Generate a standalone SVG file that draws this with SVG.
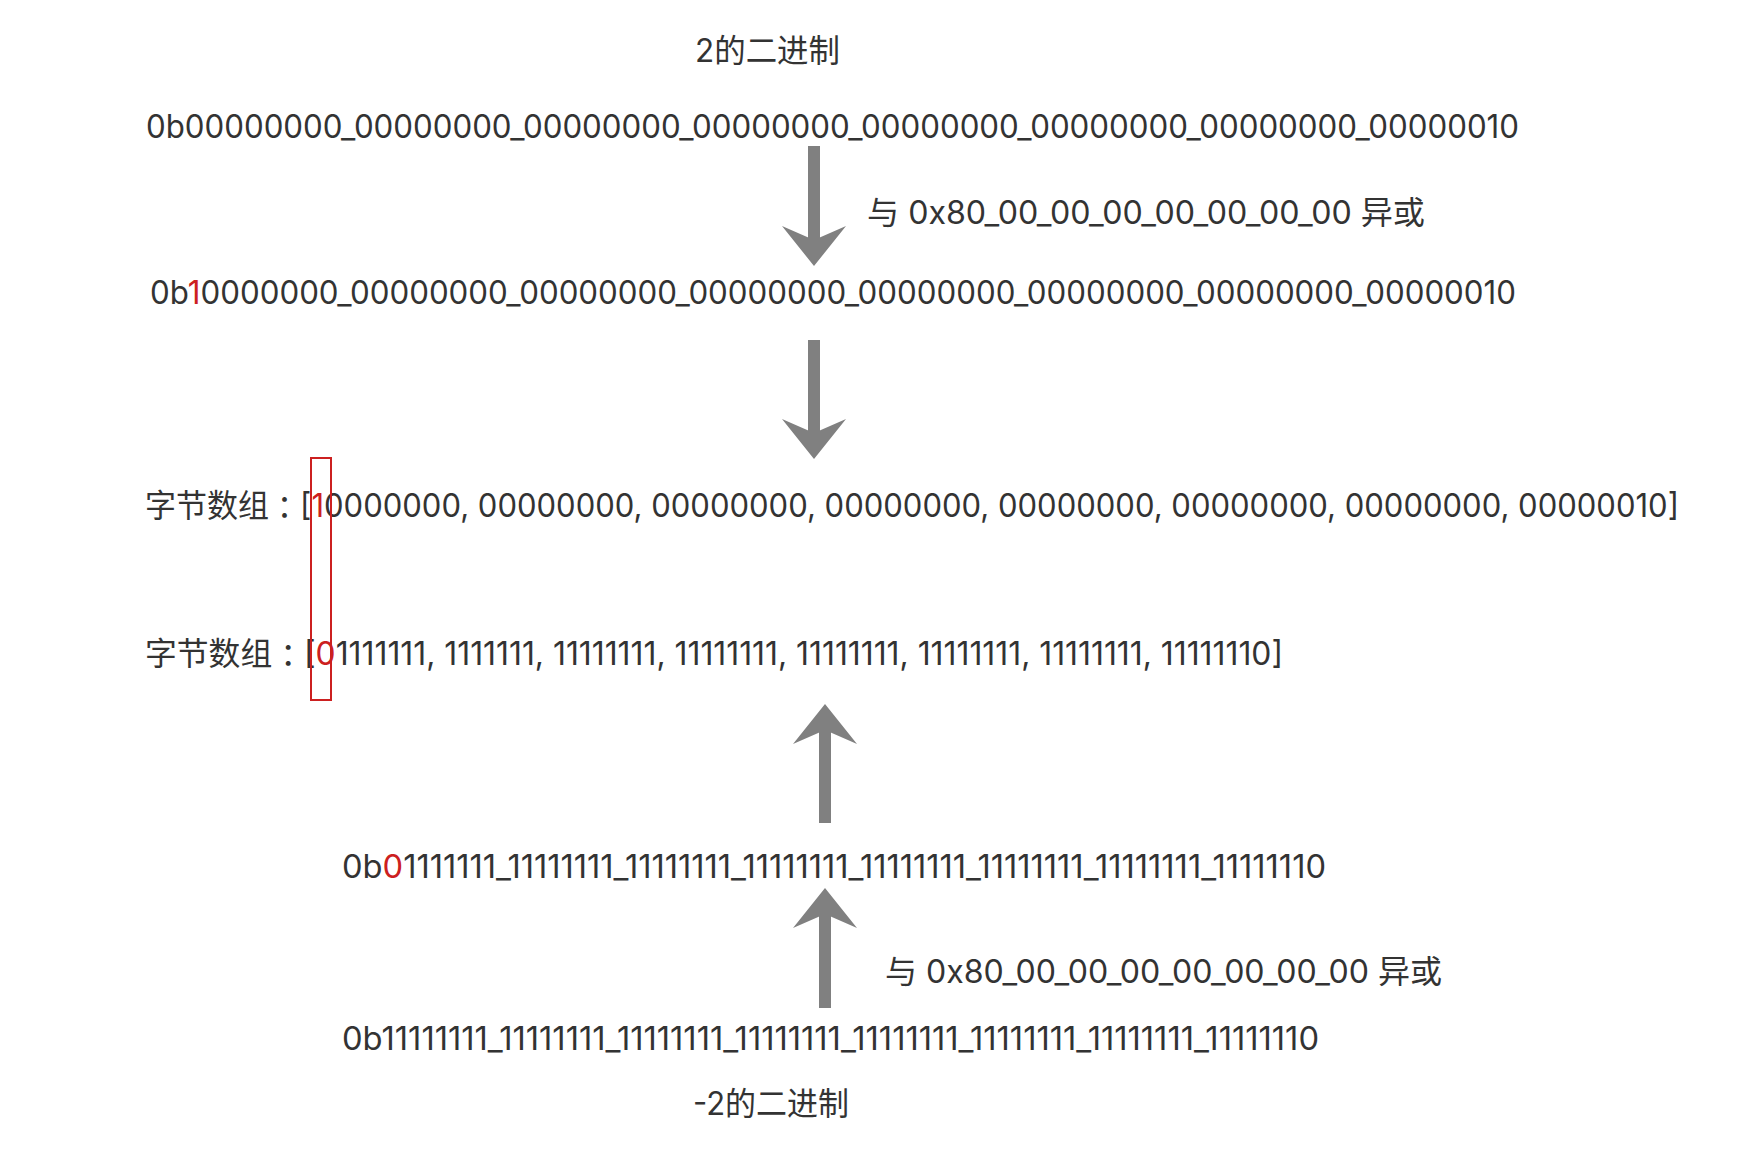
<svg xmlns="http://www.w3.org/2000/svg" width="1750" height="1168" viewBox="0 0 1750 1168">
  <style>
    .t { font-family: Inter, "Noto Sans CJK SC", sans-serif; font-size: 32px; fill: #333333; }
    .r { fill: #cc2020; }
    .arrow { stroke: #808080; stroke-width: 12; fill: none; marker-end: url(#head); }
    .hl { fill: none; stroke: #cc2020; stroke-width: 2; }
  </style>
  <defs>
    <marker id="head" markerUnits="userSpaceOnUse" orient="auto" viewBox="-14 -32 40 64" refX="0" refY="0" markerWidth="40" markerHeight="64">
      <path d="M26,0 L-14,-32 L0,0 L-14,32 Z" fill="#808080"/>
    </marker>
  </defs>
  <rect width="1750" height="1168" fill="#ffffff"/>

  <g id="label-2-binary">
    <text class="t" x="695" y="62" textLength="145" lengthAdjust="spacingAndGlyphs">2的二进制</text>
  </g>
  <g id="line-2-binary">
    <text class="t" x="146" y="138" textLength="1373" lengthAdjust="spacingAndGlyphs">0b00000000_00000000_00000000_00000000_00000000_00000000_00000000_00000010</text>
  </g>
  <g id="xor-label-top">
    <text class="t" x="867" y="224" textLength="558" lengthAdjust="spacingAndGlyphs">与 0x80_00_00_00_00_00_00_00 异或</text>
  </g>
  <g id="line-2-xor">
    <text class="t" x="150" y="304" textLength="1366" lengthAdjust="spacingAndGlyphs">0b<tspan class="r">1</tspan>0000000_00000000_00000000_00000000_00000000_00000000_00000000_00000010</text>
  </g>
  <g id="bytes-2">
    <text class="t" x="145" y="517" textLength="1534" lengthAdjust="spacingAndGlyphs">字节数组<tspan dx="8">：</tspan><tspan dx="-8">[</tspan><tspan class="r">1</tspan>0000000, 00000000, 00000000, 00000000, 00000000, 00000000, 00000000, 00000010]</text>
  </g>
  <g id="bytes-minus-2">
    <text class="t" x="145" y="665" textLength="1138" lengthAdjust="spacingAndGlyphs">字节数组<tspan dx="8">：</tspan><tspan dx="-8">[</tspan><tspan class="r">0</tspan>1111111, 1111111, 11111111, 11111111, 11111111, 11111111, 11111111, 11111110]</text>
  </g>
  <g id="highlight-box">
    <rect class="hl" x="311" y="458" width="20" height="242"/>
  </g>
  <g id="line-minus-2-xor">
    <text class="t" x="342" y="878" textLength="984" lengthAdjust="spacingAndGlyphs">0b<tspan class="r">0</tspan>1111111_11111111_11111111_11111111_11111111_11111111_11111111_11111110</text>
  </g>
  <g id="xor-label-bottom">
    <text class="t" x="885" y="983" textLength="557" lengthAdjust="spacingAndGlyphs">与 0x80_00_00_00_00_00_00_00 异或</text>
  </g>
  <g id="line-minus-2-binary">
    <text class="t" x="342" y="1050" textLength="977" lengthAdjust="spacingAndGlyphs">0b11111111_11111111_11111111_11111111_11111111_11111111_11111111_11111110</text>
  </g>
  <g id="label-minus-2-binary">
    <text class="t" x="693" y="1115" textLength="156" lengthAdjust="spacingAndGlyphs">-2的二进制</text>
  </g>

  <g id="connectors">
    <line class="arrow" x1="814" y1="146" x2="814" y2="240"/>
    <line class="arrow" x1="814" y1="340" x2="814" y2="433"/>
    <line class="arrow" x1="825" y1="823" x2="825" y2="730"/>
    <line class="arrow" x1="825" y1="1008" x2="825" y2="914"/>
  </g>
</svg>
